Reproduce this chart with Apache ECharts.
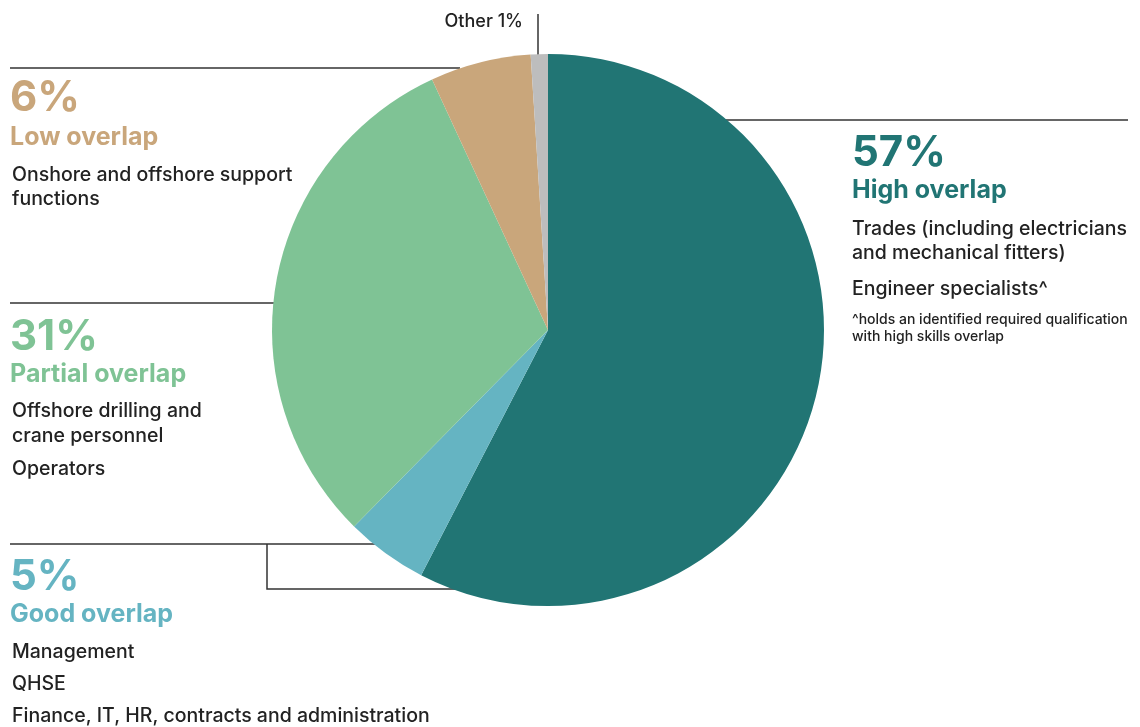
<!DOCTYPE html>
<html>
<head>
<meta charset="utf-8">
<script src="https://cdn.jsdelivr.net/npm/echarts@6/dist/echarts.min.js"></script>
<style>html,body{margin:0;padding:0;background:#fff;}#chart{width:1140px;height:727px;}</style>
</head>
<body>
<div id="chart"></div>
<script>
// ---- data ----
var categories = ['High overlap', 'Good overlap', 'Partial overlap', 'Low overlap', 'Other'];
var values = [57.6, 4.8, 30.7, 5.9, 1.0];          // slice sizes as drawn
var pctLabels = ['57%', '5%', '31%', '6%', '1%'];  // printed percentages
var colors = ['#217574', '#65b4c2', '#7fc395', '#c9a67b', '#bdbdbd'];
var descHigh = ['Trades (including electricians', 'and mechanical fitters)'];
var descHigh2 = ['Engineer specialists^'];
var noteHigh = ['^holds an identified required qualification', 'with high skills overlap'];
var descGood = ['Management', 'QHSE', 'Finance, IT, HR, contracts and administration'];
var descPartial = ['Offshore drilling and', 'crane personnel'];
var descPartial2 = ['Operators'];
var descLow = ['Onshore and offshore support', 'functions'];

// ---- rendering ----
var FONT = 'Inter, "Noto Sans", sans-serif';
var chart = echarts.init(document.getElementById('chart'));
var g = [];
function line(points) {
  g.push({type: 'polyline', z: 0, shape: {points: points}, style: {stroke: '#333', lineWidth: 1.5, fill: null}, silent: true});
}
function txt(x, y, s, size, weight, color, align) {
  g.push({type: 'text', z: 10, x: x, y: y, style: {text: s, fill: color, font: weight + ' ' + size + 'px ' + FONT, textVerticalAlign: 'middle', textAlign: align || 'left'}});
}
var BODY = 19.5, HEAD = 25, BIG = 42, INK = '#222';

// leader lines
line([[538, 14], [538, 70]]);
line([[10, 68], [460, 68]]);
line([[690, 120], [1128, 120]]);
line([[10, 303], [300, 303]]);
line([[10, 544], [390, 544]]);
line([[267, 544], [267, 589], [470, 589]]);

// Other
txt(523, 22, categories[4] + ' ' + pctLabels[4], 18, '500', INK, 'right');

// Low overlap
txt(10, 98, pctLabels[3], BIG, 'bold', colors[3]);
txt(10, 137, categories[3], HEAD, 'bold', colors[3]);
descLow.forEach(function (s, k) { txt(12, 175 + k * 24.5, s, BODY, '500', INK); });

// High overlap
txt(852, 153, pctLabels[0], BIG, 'bold', colors[0]);
txt(852, 190, categories[0], HEAD, 'bold', colors[0]);
descHigh.forEach(function (s, k) { txt(852, 229 + k * 24.5, s, BODY, '500', INK); });
descHigh2.forEach(function (s) { txt(852, 289, s, BODY, '500', INK); });
noteHigh.forEach(function (s, k) { txt(852, 320 + k * 17, s, 14, '500', INK); });

// Partial overlap
txt(10, 337, pctLabels[2], BIG, 'bold', colors[2]);
txt(10, 374, categories[2], HEAD, 'bold', colors[2]);
descPartial.forEach(function (s, k) { txt(12, 411 + k * 25, s, BODY, '500', INK); });
descPartial2.forEach(function (s) { txt(12, 469, s, BODY, '500', INK); });

// Good overlap
txt(10, 577, pctLabels[1], BIG, 'bold', colors[1]);
txt(10, 614, categories[1], HEAD, 'bold', colors[1]);
descGood.forEach(function (s, k) { txt(12, 652 + k * 32, s, BODY, '500', INK); });

chart.setOption({
  animation: false,
  graphic: {elements: g},
  series: [{
    type: 'pie',
    z: 2,
    center: [548, 330],
    radius: [0, 276],
    startAngle: 90,
    clockwise: true,
    label: {show: false},
    labelLine: {show: false},
    emphasis: {disabled: true},
    itemStyle: {borderWidth: 0},
    data: categories.map(function (c, i) { return {name: c, value: values[i], itemStyle: {color: colors[i]}}; })
  }]
});
</script>
</body>
</html>
